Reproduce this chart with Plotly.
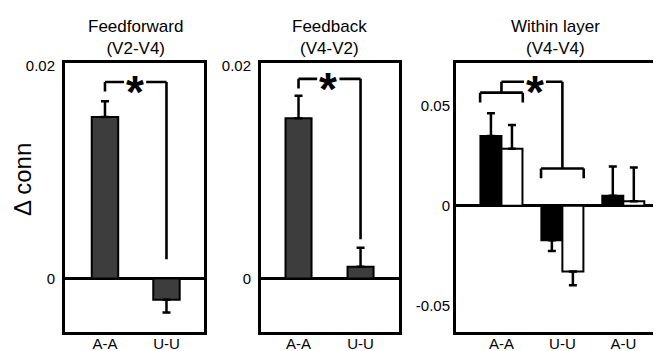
import plotly.graph_objects as go

# ---------------- data ----------------
categories_ff = ["A-A", "U-U"]
categories_fb = ["A-A", "U-U"]
categories_wl = ["A-A", "U-U", "A-U"]

ff_values = [0.0152, -0.0020]
ff_errors = [0.0015, 0.0012]

fb_values = [0.0151, 0.0011]
fb_errors = [0.0021, 0.0018]

wl_black_values = [0.0348, -0.0172, 0.0050]
wl_black_errors = [0.0113, 0.0054, 0.0146]
wl_white_values = [0.0284, -0.0328, 0.0022]
wl_white_errors = [0.0118, 0.0069, 0.0169]

titles = ["Feedforward<br>(V2-V4)", "Feedback<br>(V4-V2)", "Within layer<br>(V4-V4)"]
y_title = "Δ conn"

ff_ticks = [0, 0.02]
fb_ticks = [0, 0.02]
wl_ticks = [-0.05, 0, 0.05]
wl_ticktext = ["-0.05", "0", "0.05"]

# ---------------- style / layout constants ----------------
W, H = 661, 351
OFF = 8  # page body margin compensation
FONT = "Liberation Sans, Arial, Helvetica, sans-serif"
DARK = "#3d3d3d"


def px_x(p):
    return (p - OFF) / W


def px_y(p):
    return 1 - (p - OFF) / H


y_dom = [px_y(332), px_y(58)]
x_doms = [[px_x(65), px_x(204)], [px_x(261), px_x(399)], [px_x(456), 1.0]]
x_ranges = [[-0.65, 1.61], [-0.605, 1.62], [-0.746, 2.75]]
y_ranges = [[-0.00509, 0.02028], [-0.00509, 0.02028], [-0.0632, 0.0711]]


def err_dict(vals, errs):
    plus = [e if v >= 0 else 0 for v, e in zip(vals, errs)]
    minus = [e if v < 0 else 0 for v, e in zip(vals, errs)]
    return dict(type="data", symmetric=False, array=plus, arrayminus=minus,
                color="black", thickness=2.5, width=4)


fig = go.Figure()

fig.add_trace(go.Bar(x=list(range(len(categories_ff))), y=ff_values, width=0.43,
                     marker=dict(color=DARK, line=dict(color="black", width=2)),
                     error_y=err_dict(ff_values, ff_errors), xaxis="x", yaxis="y",
                     showlegend=False))
fig.add_trace(go.Bar(x=list(range(len(categories_fb))), y=fb_values, width=0.42,
                     marker=dict(color=DARK, line=dict(color="black", width=2)),
                     error_y=err_dict(fb_values, fb_errors), xaxis="x2", yaxis="y2",
                     showlegend=False))
bw = 0.345
fig.add_trace(go.Bar(x=list(range(len(categories_wl))), y=wl_black_values, width=bw, offset=-bw,
                     marker=dict(color="black", line=dict(color="black", width=2)),
                     error_y=err_dict(wl_black_values, wl_black_errors), xaxis="x3", yaxis="y3",
                     showlegend=False))
fig.add_trace(go.Bar(x=list(range(len(categories_wl))), y=wl_white_values, width=bw, offset=0,
                     marker=dict(color="white", line=dict(color="black", width=2)),
                     error_y=err_dict(wl_white_values, wl_white_errors), xaxis="x3", yaxis="y3",
                     showlegend=False))

axis_common = dict(showline=True, linewidth=3, linecolor="black", showgrid=False, ticks="")

layout = dict(
    width=W, height=H, margin=dict(l=0, r=0, t=0, b=0),
    paper_bgcolor="white", plot_bgcolor="white", barmode="overlay",
    font=dict(family=FONT, color="black"),
)
cats = [categories_ff, categories_fb, categories_wl]
yticks = [(ff_ticks, ["0", "0.02"]), (fb_ticks, ["0", "0.02"]), (wl_ticks, wl_ticktext)]
for i in range(3):
    sx = "" if i == 0 else str(i + 1)
    layout["xaxis" + sx] = dict(axis_common, domain=x_doms[i], range=x_ranges[i],
                                anchor="y" + sx, mirror=True, zeroline=False,
                                tickvals=list(range(len(cats[i]))), ticktext=cats[i],
                                tickfont=dict(family=FONT, size=15, color="black"),
                                ticklabelstandoff=-4)
    layout["yaxis" + sx] = dict(axis_common, domain=y_dom, range=y_ranges[i],
                                anchor="x" + sx, mirror=(i < 2), zeroline=True,
                                zerolinecolor="black", zerolinewidth=2.5,
                                tickvals=yticks[i][0], ticktext=yticks[i][1],
                                tickfont=dict(family=FONT, size=15, color="black"),
                                ticklabelstandoff=(4 if i < 2 else 0))
fig.update_layout(**layout)

# ---------------- titles ----------------
title_x = [px_x(135), px_x(329), px_x(555)]
annotations = []
for i in range(3):
    annotations.append(dict(text=titles[i], x=title_x[i], y=px_y(32), xref="paper", yref="paper",
                            showarrow=False, xanchor="center", yanchor="middle",
                            font=dict(family=FONT, size=17, color="black")))
annotations.append(dict(text=y_title, x=px_x(22), y=px_y(177), xref="paper", yref="paper",
                        showarrow=False, textangle=-90, xanchor="center", yanchor="middle",
                        font=dict(family=FONT, size=24, color="black")))

# ---------------- significance brackets ----------------
LW = 2.6
shapes = []


def seg(ax, x0, y0, x1, y1):
    shapes.append(dict(type="line", xref=ax[0], yref=ax[1], x0=x0, y0=y0, x1=x1, y1=y1,
                       line=dict(color="black", width=LW)))


def star(ax, x, y):
    annotations.append(dict(text="<b>*</b>", x=x, y=y, xref=ax[0], yref=ax[1], showarrow=False,
                            xanchor="center", yanchor="middle", yshift=-10,
                            font=dict(family=FONT, size=46, color="black")))


simple_brackets = [
    # axes, top level, left foot, right foot, star x, star gap
    (("x", "y"), 0.0185, 0.0176, 0.0018, 0.49, 0.18),
    (("x2", "y2"), 0.0188, 0.0179, 0.0037, 0.48, 0.18),
]
for ax, top, lf, rf, sxp, gap in simple_brackets:
    seg(ax, 0, lf, 0, top)
    seg(ax, 0, top, sxp - gap, top)
    seg(ax, sxp + gap, top, 1, top)
    seg(ax, 1, top, 1, rf)
    star(ax, sxp, top)

ax3 = ("x3", "y3")
group_half = 0.35
aa_level, aa_foot = 0.0564, 0.0515
uu_level, uu_foot = 0.0186, 0.0137
conn_level = 0.0618
star3_x, star3_gap = 0.55, 0.18
for c, lvl, foot in [(0, aa_level, aa_foot), (1, uu_level, uu_foot)]:
    seg(ax3, c - group_half, foot, c - group_half, lvl)
    seg(ax3, c - group_half, lvl, c + group_half, lvl)
    seg(ax3, c + group_half, lvl, c + group_half, foot)
seg(ax3, 0, aa_level, 0, conn_level)
seg(ax3, 0, conn_level, star3_x - star3_gap, conn_level)
seg(ax3, star3_x + star3_gap, conn_level, 1, conn_level)
seg(ax3, 1, conn_level, 1, uu_level)
star(ax3, star3_x, conn_level)

fig.update_layout(shapes=shapes, annotations=annotations)
fig.write_html("out.html")
